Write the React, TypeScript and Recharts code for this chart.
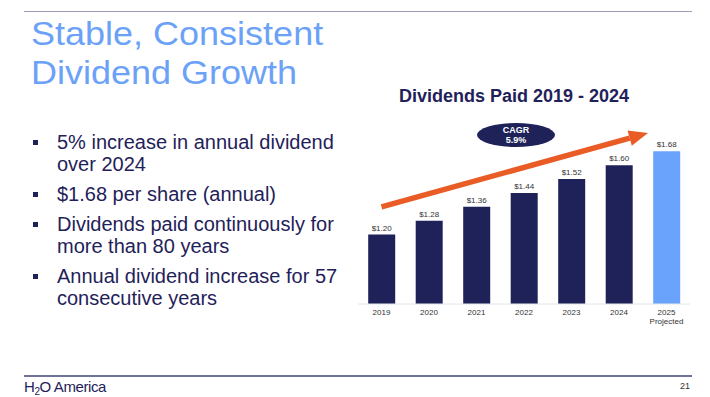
import { BarChart, Bar, XAxis, YAxis, Cell, LabelList, ReferenceLine } from "recharts";

const years = ["2019", "2020", "2021", "2022", "2023", "2024", "2025"];
const subLabels = ["", "", "", "", "", "", "Projected"];
const dividends = [1.2, 1.28, 1.36, 1.44, 1.52, 1.6, 1.68];
const projected = [false, false, false, false, false, false, true];

const bullets = [
  "5% increase in annual dividend over 2024",
  "$1.68 per share (annual)",
  "Dividends paid continuously for more than 80 years",
  "Annual dividend increase for 57 consecutive years",
];

// CAGR trend arrow, in data terms
const arrowFrom = { x: "2019", y: 1.36 };
const arrowTo = { x: "2025", y: 1.815 };
const arrowReach = 0.935;

const NAVY = "#1f2259";
const LIGHT = "#6aa3fc";
const ORANGE = "#e95c26";
const FONT = "'Liberation Sans', Arial, sans-serif";

const data = years.map((year, i) => ({
  year,
  sub: subLabels[i],
  value: dividends[i],
  projected: projected[i],
}));

const YearTick = ({ x, y, payload, index }: any) => (
  <g>
    <text x={x} y={y + 11} textAnchor="middle" fontSize={8} fill="#333" fontFamily={FONT}>
      {payload.value}
    </text>
    {subLabels[index] && (
      <text x={x} y={y + 20} textAnchor="middle" fontSize={8} fill="#333" fontFamily={FONT}>
        {subLabels[index]}
      </text>
    )}
  </g>
);

const Arrow = ({ x1, y1, x2, y2 }: any) => {
  const tx = x1 + (x2 - x1) * arrowReach;
  const ty = y1 + (y2 - y1) * arrowReach;
  const len = Math.hypot(tx - x1, ty - y1);
  const ux = (tx - x1) / len;
  const uy = (ty - y1) / len;
  const head = 19;
  const half = 8;
  const bx = tx - ux * head;
  const by = ty - uy * head;
  return (
    <g>
      <line x1={x1} y1={y1} x2={bx} y2={by} stroke={ORANGE} strokeWidth={5.5} />
      <polygon
        points={`${tx},${ty} ${bx - uy * half},${by + ux * half} ${bx + uy * half},${by - ux * half}`}
        fill={ORANGE}
      />
    </g>
  );
};

export default function App() {
  return (
    <div
      style={{
        position: "absolute",
        left: 0,
        top: 0,
        width: 710,
        height: 397,
        background: "#fff",
        fontFamily: FONT,
        overflow: "hidden",
      }}
    >
      <div style={{ position: "absolute", left: 24, top: 11, width: 668, height: 1, background: "#9a9db5" }} />
      <div
        style={{
          position: "absolute",
          left: 31,
          top: 14,
          fontSize: 36,
          lineHeight: "42px",
          color: "#6ba2f7",
          whiteSpace: "nowrap",
          transform: "scale(1, 0.93)",
          transformOrigin: "0 0",
        }}
      >
        Stable, Consistent
        <br />
        Dividend Growth
      </div>

      <div style={{ position: "absolute", left: 33, top: 131, width: 310, color: NAVY }}>
        {bullets.map((b) => (
          <div key={b} style={{ position: "relative", paddingLeft: 24, fontSize: 20, lineHeight: "22px", marginBottom: 8 }}>
            <span
              style={{ position: "absolute", left: 0, top: 9, width: 5, height: 5, background: NAVY }}
            />
            {b}
          </div>
        ))}
      </div>

      <div
        style={{
          position: "absolute",
          left: 514,
          top: 86,
          transform: "translateX(-50%)",
          fontSize: 18,
          fontWeight: 700,
          color: NAVY,
          whiteSpace: "nowrap",
        }}
      >
        Dividends Paid 2019 - 2024
      </div>

      <div style={{ position: "absolute", left: 0, top: 0 }}>
        <BarChart
          width={710}
          height={397}
          data={data}
          margin={{ top: 130.5, right: 19.75, left: 357.75, bottom: 63 }}
          barCategoryGap="22%"
        >
          <XAxis
            dataKey="year"
            height={30}
            tickLine={false}
            tickSize={0}
            tickMargin={0}
            axisLine={{ stroke: "#e3e6ea" }}
            tick={<YearTick />}
            interval={0}
          />
          <YAxis hide domain={[0.8, 1.8]} />
          <Bar dataKey="value" isAnimationActive={false}>
            {data.map((d) => (
              <Cell key={d.year} fill={d.projected ? LIGHT : NAVY} />
            ))}
            <LabelList
              dataKey="value"
              position="top"
              offset={4}
              fontSize={8}
              fill="#333"
              fontFamily={FONT}
              formatter={(v: any) => `$${Number(v).toFixed(2)}`}
            />
          </Bar>
          <ReferenceLine
            segment={[arrowFrom, arrowTo]}
            ifOverflow="visible"
            shape={<Arrow />}
          />
        </BarChart>
      </div>

      <div
        style={{
          position: "absolute",
          left: 477,
          top: 123,
          width: 78,
          height: 24,
          borderRadius: "50%",
          background: NAVY,
          color: "#fff",
          fontSize: 9,
          fontWeight: 700,
          lineHeight: "10px",
          textAlign: "center",
          display: "flex",
          flexDirection: "column",
          justifyContent: "center",
        }}
      >
        <div>CAGR</div>
        <div>5.9%</div>
      </div>

      <div style={{ position: "absolute", left: 24, top: 375, width: 668, height: 1.5, background: "#6f7399" }} />
      <div
        style={{
          position: "absolute",
          left: 24,
          top: 378,
          fontSize: 15,
          lineHeight: "18px",
          color: NAVY,
          letterSpacing: -0.4,
          whiteSpace: "nowrap",
        }}
      >
        H<span style={{ position: "relative", top: 3, fontSize: 10 }}>2</span>O America
      </div>
      <div style={{ position: "absolute", left: 680, top: 381, fontSize: 9, color: "#333" }}>21</div>
    </div>
  );
}
